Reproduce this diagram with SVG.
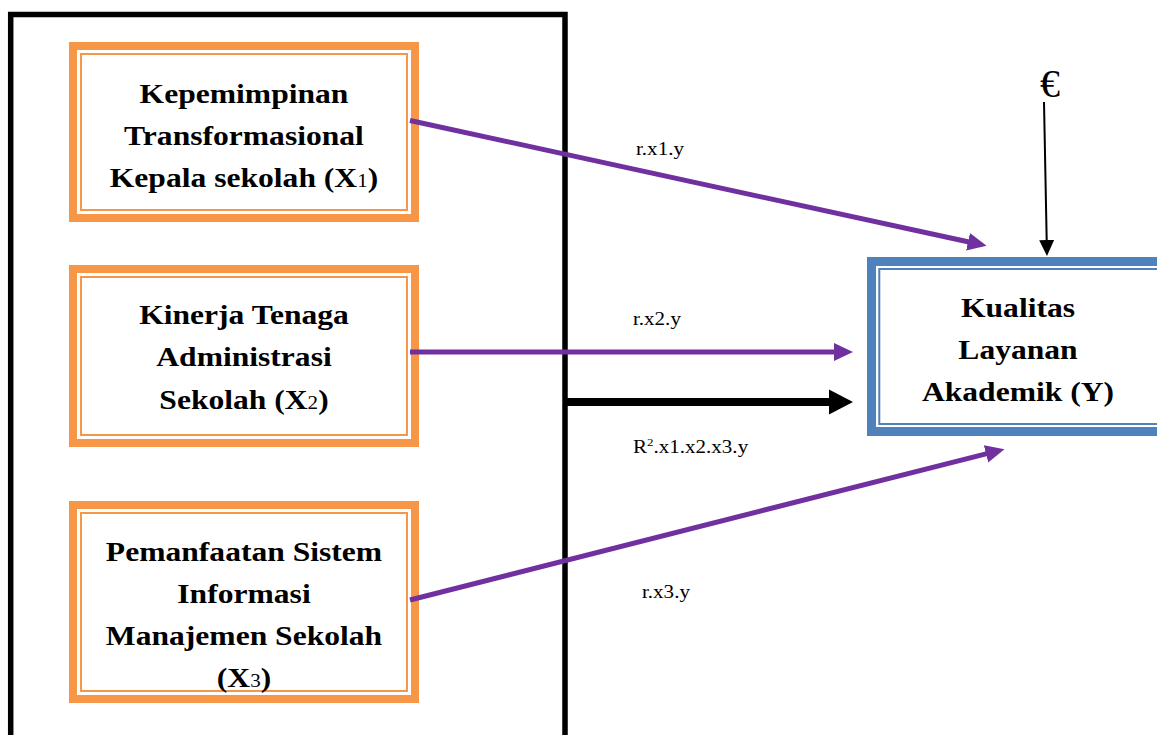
<svg xmlns="http://www.w3.org/2000/svg" width="1157" height="735" viewBox="0 0 1157 735">
<defs>
<style>
.ob{fill:#fff;stroke:#F79646;stroke-width:8}
.ot{fill:none;stroke:#F79646;stroke-width:2}
.bb{fill:#fff;stroke:#4F81BD;stroke-width:9}
.bt{fill:none;stroke:#4F81BD;stroke-width:2}
.t{font-family:"Liberation Serif","Times New Roman",serif;font-weight:bold;font-size:27px;fill:#000;text-anchor:middle}
.sub{font-size:18px;font-weight:normal}
.lbl{font-family:"Liberation Serif","Times New Roman",serif;font-size:18px;fill:#000}
.pl{fill:none;stroke:#7030A0;stroke-width:5}
</style>
<marker id="hp" markerUnits="userSpaceOnUse" markerWidth="20" markerHeight="20" viewBox="0 -10 20 20" refX="1" refY="0" orient="auto"><path d="M0,-9 L19,0 L0,9 Z" fill="#7030A0"/></marker>
<marker id="hb" markerUnits="userSpaceOnUse" markerWidth="26" markerHeight="28" viewBox="0 -13 26 26" refX="1" refY="0" orient="auto"><path d="M0,-12.5 L24,0 L0,12.5 Z" fill="#000"/></marker>
<marker id="hs" markerUnits="userSpaceOnUse" markerWidth="18" markerHeight="18" viewBox="0 -9 18 18" refX="1" refY="0" orient="auto"><path d="M0,-7.5 L16,0 L0,7.5 Z" fill="#000"/></marker>
</defs>
<rect width="1157" height="735" fill="#fff"/>
<g id="frame"><path d="M10.7,745 V14.5 H565 V745" fill="none" stroke="#000" stroke-width="5.5"/></g>
<g id="x1">
<rect class="ob" x="73" y="46" width="342" height="172"/>
<rect class="ot" x="81" y="54" width="326" height="156"/>
<g transform="translate(244,0) scale(1.17,1)">
<text class="t" x="0" y="103">Kepemimpinan</text>
<text class="t" x="0" y="145">Transformasional</text>
<text class="t" x="0" y="187">Kepala sekolah (X<tspan class="sub">1</tspan>)</text>
</g>
</g>
<g id="x2">
<rect class="ob" x="73" y="269" width="342" height="174"/>
<rect class="ot" x="81" y="277" width="326" height="158"/>
<g transform="translate(244,0) scale(1.17,1)">
<text class="t" x="0" y="324">Kinerja Tenaga</text>
<text class="t" x="0" y="366">Administrasi</text>
<text class="t" x="0" y="409">Sekolah (X<tspan class="sub">2</tspan>)</text>
</g>
</g>
<g id="x3">
<rect class="ob" x="73" y="505" width="342" height="194"/>
<rect class="ot" x="81" y="513" width="326" height="178"/>
<g transform="translate(244,0) scale(1.17,1)">
<text class="t" x="0" y="561">Pemanfaatan Sistem</text>
<text class="t" x="0" y="603">Informasi</text>
<text class="t" x="0" y="645">Manajemen Sekolah</text>
<text class="t" x="0" y="687">(X<tspan class="sub">3</tspan>)</text>
</g>
</g>
<g id="y">
<rect class="bb" x="871.5" y="261.5" width="400" height="170"/>
<rect class="bt" x="879.3" y="269" width="400" height="155"/>
<g transform="translate(1018,0) scale(1.17,1)">
<text class="t" x="0" y="317">Kualitas</text>
<text class="t" x="0" y="359">Layanan</text>
<text class="t" x="0" y="401">Akademik (Y)</text>
</g>
</g>
<g id="error">
<text x="1050" y="97" style="font-family:'Liberation Serif','Times New Roman',serif;font-size:40px;font-weight:normal;text-anchor:middle">€</text>
</g>
<g id="connectors">
<line class="pl" x1="410" y1="120.5" x2="969" y2="242" marker-end="url(#hp)"/>
<line class="pl" x1="410" y1="352" x2="835" y2="352" marker-end="url(#hp)"/>
<line class="pl" x1="410" y1="600" x2="987" y2="453.6" marker-end="url(#hp)"/>
<line x1="565" y1="402" x2="830" y2="402" stroke="#000" stroke-width="8" marker-end="url(#hb)"/>
<line x1="1044" y1="102" x2="1046.7" y2="241" stroke="#000" stroke-width="2" marker-end="url(#hs)"/>
</g>
<g id="labels" transform="scale(1.17,1)">
<text class="lbl" x="543.6" y="155">r.x1.y</text>
<text class="lbl" x="541" y="325">r.x2.y</text>
<text class="lbl" x="541" y="453">R<tspan font-size="11" dy="-7">2</tspan><tspan dy="7">.x1.x2.x3.y</tspan></text>
<text class="lbl" x="548.7" y="598">r.x3.y</text>
</g>
</svg>
